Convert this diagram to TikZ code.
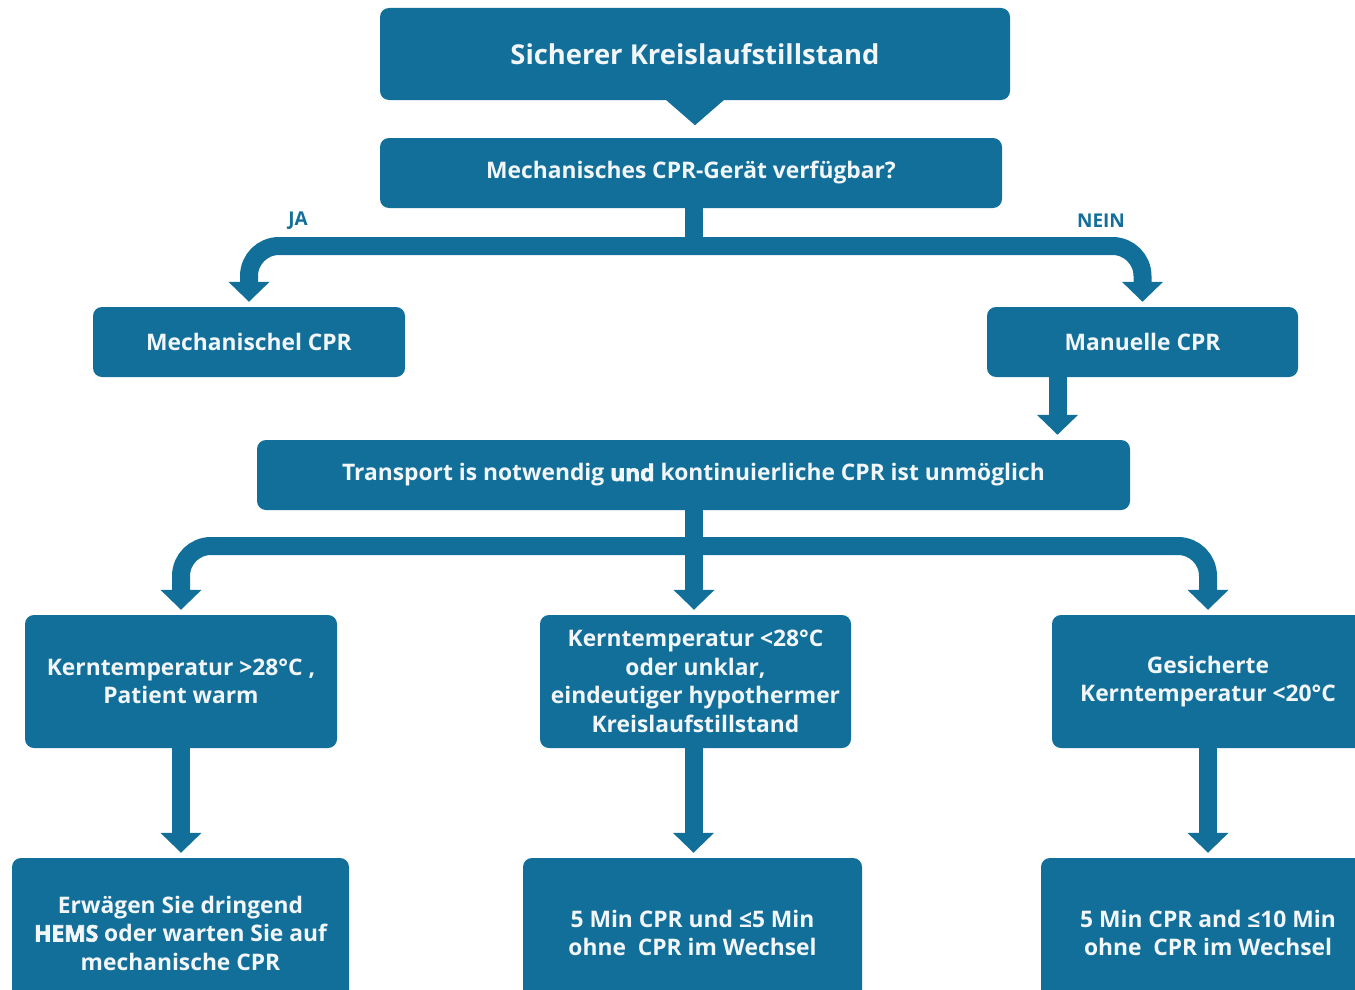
\documentclass[tikz,border=0pt]{standalone}
\usepackage{fontspec}
\setmainfont{Open Sans Bold}
\newfontfamily\heavy{Open Sans Bold}[FakeBold=3]
\usetikzlibrary{arrows.meta,calc}
\definecolor{cprblue}{RGB}{18,111,154}
\definecolor{cprtext}{RGB}{242,246,248}

\begin{document}
\begin{tikzpicture}[x=1pt,y=-1pt,
  box/.style={fill=cprblue, rounded corners=9pt, text=cprtext, align=center,
    inner sep=0pt, font=\fontsize{22.8}{28.5}\selectfont},
  lbl/.style={text=cprblue, font=\fontsize{19}{21}\selectfont, inner sep=0pt},
  conn/.style={draw=cprblue, line width=18pt, -{Triangle[width=40pt,length=20pt]}, shorten >=5pt},
  fork/.style={draw=cprblue, line width=18pt, {Triangle[width=40pt,length=20pt]}-{Triangle[width=40pt,length=20pt]},
    shorten >=5pt, shorten <=5pt, rounded corners=30pt},
  stemline/.style={draw=cprblue, line width=18pt}]
\useasboundingbox (0,0) rectangle (1355,990);
\clip (0,0) rectangle (1355,990);

% boxes
\node[box, minimum width=630pt, minimum height=92pt, font=\fontsize{27.4}{30}\selectfont]
  (title) at (695,54) {Sicherer Kreislaufstillstand};
\node[box, minimum width=622pt, minimum height=70pt] (q) at (691,173) {Mechanisches CPR-Gerät verfügbar?};
\node[box, minimum width=312pt, minimum height=70pt] (mech) at (249,342) {Mechanischel CPR};
\node[box, minimum width=311pt, minimum height=70pt] (man) at (1142.5,342) {Manuelle CPR};
\node[box, minimum width=873pt, minimum height=70pt] (tr) at (693.5,475)
  {Transport is notwendig {\heavy und} kontinuierliche CPR ist unmöglich};

\node[box, minimum width=312pt, minimum height=133pt] (k1) at (181,681.5)
  {Kerntemperatur >28°C ,\\Patient warm};
\node[box, minimum width=311pt, minimum height=133pt] (k2) at (695.5,681.5)
  {Kerntemperatur <28°C\\oder unklar,\\eindeutiger hypothermer\\Kreislaufstillstand};
\node[box, minimum width=312pt, minimum height=133pt] (k3) at (1208,681.5)
  {Gesicherte\\Kerntemperatur <20°C};

\node[box, minimum width=337pt, minimum height=150pt] (m1) at (180.5,933)
  {Erwägen Sie dringend\\{\heavy HEMS} oder warten Sie auf\\mechanische CPR};
\node[box, minimum width=339pt, minimum height=150pt] (m2) at (692.5,933)
  {5 Min CPR und ≤5 Min\\ohne~ CPR im Wechsel};
\node[box, minimum width=334pt, minimum height=150pt] (m3) at (1208,933)
  {5 Min CPR and ≤10 Min\\ohne~ CPR im Wechsel};

% pointer under the title box
\fill[cprblue] ($(title.south)+(-31,-2)$) -- ($(title.south)+(31,-2)$) -- ($(title.south)+(0,25)$) -- cycle;

% branch labels
\node[lbl] (ja) at (298,221) {JA};
\node[lbl] (nein) at (1101,221) {NEIN};

% first decision fork
\coordinate (j1) at (694,246);
\draw[stemline] (j1 |- q.south) -- (j1);
\draw[fork] (mech.north) |- (j1) -| (man.north);

% manual CPR down to transport
\draw[conn] ([xshift=-85pt]man.south) -- ([xshift=-85pt]man.south |- tr.north);

% second fork
\coordinate (j2) at (694,546);
\draw[stemline] (j2 |- tr.south) -- (j2);
\draw[fork] (k1.north) |- (j2) -| (k3.north);
\draw[conn] (j2) -- (j2 |- k2.north);

% lower arrows
\draw[conn] (k1.south) -- (k1.south |- m1.north);
\draw[conn] ([xshift=-2pt]k2.south) -- ([xshift=-2pt]k2.south |- m2.north);
\draw[conn] (k3.south) -- (k3.south |- m3.north);
\end{tikzpicture}
\end{document}
